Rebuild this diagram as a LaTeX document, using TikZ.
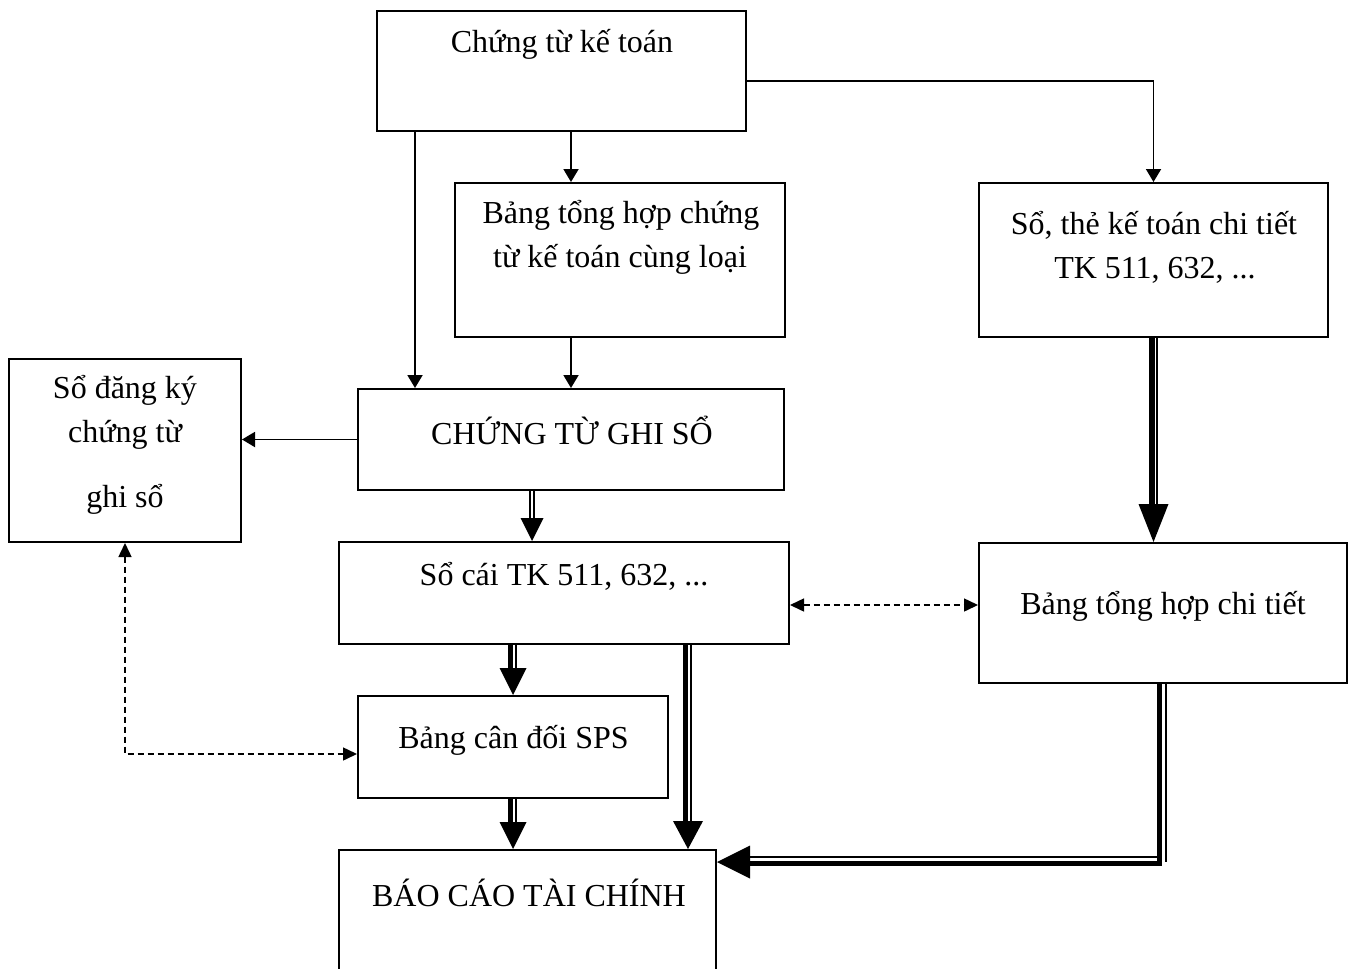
\documentclass[tikz,border=0pt]{standalone}
\usepackage{fontspec}
\setmainfont{Liberation Serif}
\usetikzlibrary{arrows.meta,calc}
\begin{document}
\begin{tikzpicture}[x=0.5pt,y=-0.5pt,
  box/.style={draw,line width=1pt,rectangle,inner sep=0pt},
  txt/.style={anchor=base,inner sep=0pt,font=\fontsize{16}{22}\selectfont},
  arr/.style={line width=0.95pt,-{Triangle[width=7.5pt,length=6.5pt]}},
  dsh/.style={line width=0.75pt,dash pattern=on 3pt off 2pt,{Triangle[width=6.5pt,length=7pt]}-{Triangle[width=6.5pt,length=7pt]}},
  thk/.style={line width=2.5pt},
  thn/.style={line width=0.85pt},
  dbl/.style={line width=0.7pt}]
\useasboundingbox (0,0) rectangle (1355,969);
\clip (0,0) rectangle (1355,969);
% boxes
\node[box,minimum width=184.5pt,minimum height=60pt] (top) at (561.5,71) {};
\node[box,minimum width=165pt,minimum height=77pt] (bth) at (620,260) {};
\node[box,minimum width=174.5pt,minimum height=77pt] (st) at (1153.5,260) {};
\node[box,minimum width=116pt,minimum height=91.5pt] (sdk) at (125,450.5) {};
\node[box,minimum width=213pt,minimum height=50.5pt] (ctgs) at (571,439.5) {};
\node[box,minimum width=225pt,minimum height=51pt] (sc) at (564,593) {};
\node[box,minimum width=184pt,minimum height=70pt] (bthct) at (1163,613) {};
\node[box,minimum width=155pt,minimum height=51pt] (bcd) at (513,747) {};
\node[box,minimum width=188.5pt,minimum height=80pt] (bctc) at (527.5,930) {};
% texts
\node[txt] (t1) at (562,52) {Chứng từ kế toán};
\node[txt] (t2a) at (621,223) {Bảng tổng hợp chứng};
\node[txt] (t2b) at (620,267) {từ kế toán cùng loại};
\node[txt] (t3a) at (1154,234) {Sổ, thẻ kế toán chi tiết};
\node[txt] (t3b) at (1155,278) {TK 511, 632, ...};
\node[txt] (t4a) at (125,398) {Sổ đăng ký};
\node[txt] (t4b) at (125,442) {chứng từ};
\node[txt] (t4c) at (125,507) {ghi sổ};
\node[txt] (t5) at (572,444) {CHỨNG TỪ GHI SỔ};
\node[txt] (t6) at (564,585) {Sổ cái TK 511, 632, ...};
\node[txt] (t7) at (1163,614) {Bảng tổng hợp chi tiết};
\node[txt] (t8) at (513.5,748) {Bảng cân đối SPS};
\node[txt] (t9) at (529,906) {BÁO CÁO TÀI CHÍNH};
% thin arrows
\coordinate (p1) at ($(top.south west)+(39,0)$);
\draw[arr] (p1) -- (p1 |- ctgs.north);
\draw[arr] (ctgs.north |- top.south) -- (ctgs.north |- bth.north);
\draw[arr] (bth.south -| ctgs.north) -- (ctgs.north);
\draw[arr] ($(top.east)+(0,10)$) -| (st.north);
\draw[arr] (ctgs.west) -- (sdk.east |- ctgs.west);
% dashed
\coordinate (d1) at ($(bcd.west)+(0,7)$);
\draw[dsh] (sdk.south) |- (d1);
\coordinate (d2) at ($(sc.east)+(0,12)$);
\draw[dsh] (d2) -- (d2 -| bthct.west);
% double thin: CTGS -> So cai
\coordinate (a1) at ($(ctgs.south)+(-39,0)$);
\coordinate (a1t) at (a1 |- sc.north);
\draw[dbl] ($(a1)+(-2,0)$) -- ($(a1t)+(-2,-23)$);
\draw[dbl] ($(a1)+(2,0)$) -- ($(a1t)+(2,-23)$);
\fill ($(a1t)+(-11.5,-23)$) -- (a1t) -- ($(a1t)+(11.5,-23)$) -- cycle;
% So the -> BTHCT
\coordinate (a2) at (st.south);
\coordinate (a2t) at (st.south |- bthct.north);
\draw[line width=3pt] ($(a2)+(-2,0)$) -- ($(a2t)+(-2,-38)$);
\draw[thn] ($(a2)+(3.5,0)$) -- ($(a2t)+(3.5,-38)$);
\fill ($(a2t)+(-15,-38)$) -- (a2t) -- ($(a2t)+(15,-38)$) -- cycle;
% So cai -> BCD
\coordinate (a3) at (bcd.north |- sc.south);
\draw[thk] ($(a3)+(-2.5,0)$) -- ($(bcd.north)+(-2.5,-27)$);
\draw[thn] ($(a3)+(2.75,0)$) -- ($(bcd.north)+(2.75,-27)$);
\fill ($(bcd.north)+(-13.5,-27)$) -- (bcd.north) -- ($(bcd.north)+(13.5,-27)$) -- cycle;
% So cai -> BCTC
\coordinate (a4) at ($(sc.south)+(124,0)$);
\coordinate (a4t) at (a4 |- bctc.north);
\draw[thk] ($(a4)+(-2.5,0)$) -- ($(a4t)+(-2.5,-28)$);
\draw[thn] ($(a4)+(3,0)$) -- ($(a4t)+(3,-28)$);
\fill ($(a4t)+(-15,-28)$) -- (a4t) -- ($(a4t)+(15,-28)$) -- cycle;
% BCD -> BCTC
\coordinate (a5t) at (bcd.south |- bctc.north);
\draw[thk] ($(bcd.south)+(-2.5,0)$) -- ($(a5t)+(-2.5,-27)$);
\draw[thn] ($(bcd.south)+(2.75,0)$) -- ($(a5t)+(2.75,-27)$);
\fill ($(a5t)+(-13.5,-27)$) -- (a5t) -- ($(a5t)+(13.5,-27)$) -- cycle;
% BTHCT -> BCTC
\coordinate (b3) at ($(bctc.north east)+(0,13)$);
\coordinate (v) at ($(bthct.south)+(-3.5,0)$);
\coordinate (h) at ($(b3)+(33,1.5)$);
\draw[line width=2.75pt,line join=miter] (v) |- (h);
\coordinate (v2) at ($(bthct.south)+(3,0)$);
\draw[thn] (v2) -- (v2 |- b3);
\coordinate (h2) at ($(b3)+(33,-5)$);
\draw[thn] (h2) -- (h2 -| v);
\fill (b3) -- ($(b3)+(33,-16.5)$) -- ($(b3)+(33,16.5)$) -- cycle;
\end{tikzpicture}
\end{document}
